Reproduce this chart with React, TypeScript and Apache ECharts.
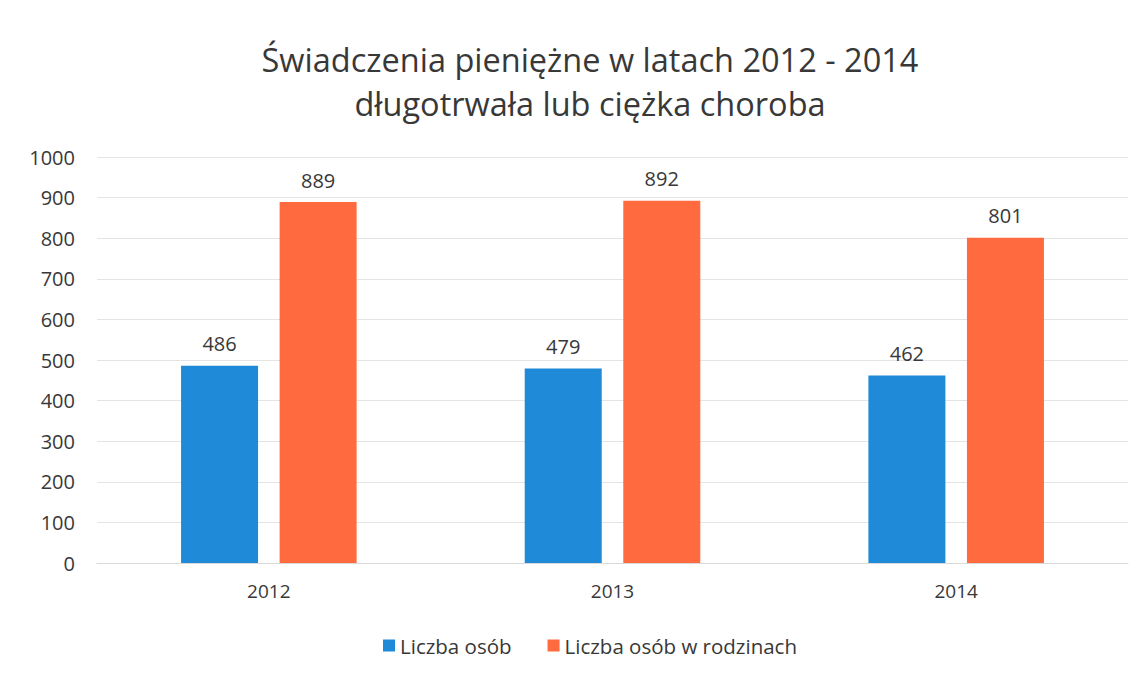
import React, { useEffect, useRef } from "react";
import * as echarts from "echarts";

const categories = ["2012", "2013", "2014"];
const seriesNames = ["Liczba osób", "Liczba osób w rodzinach"];
const liczbaOsob = [486, 479, 462];
const liczbaOsobRodziny = [889, 892, 801];
const titleLines = ["Świadczenia pieniężne w latach 2012 - 2014", "długotrwała lub ciężka choroba"];

const FONT = "'Open Sans', 'Noto Sans', sans-serif";
const TEXT = "#383838";

export default function App() {
  const ref = useRef<HTMLDivElement>(null);
  useEffect(() => {
    if (!ref.current) return;
    const chart = echarts.init(ref.current, undefined, { renderer: "svg" });
    chart.setOption({
      animation: false,
      backgroundColor: "#ffffff",
      title: {
        text: titleLines.join("\n"),
        left: 585,
        textAlign: "center",
        top: 32,
        textStyle: {
          fontFamily: FONT,
          fontSize: 32.5,
          fontWeight: "normal",
          color: TEXT,
          lineHeight: 44,
        },
      },
      legend: {
        bottom: 15,
        left: 378,
        itemWidth: 12,
        itemHeight: 12,
        itemGap: 36,
        icon: "rect",
        textStyle: { fontFamily: FONT, fontSize: 20.5, color: TEXT },
        data: seriesNames,
      },
      grid: { left: 97, right: 16, top: 157, bottom: 113, containLabel: false },
      xAxis: {
        type: "category",
        data: categories,
        axisLine: { show: true, lineStyle: { color: "#d9d9d9" } },
        axisTick: { show: false },
        axisLabel: { fontFamily: FONT, fontSize: 19, color: TEXT, margin: 18 },
      },
      yAxis: {
        type: "value",
        min: 0,
        max: 1000,
        interval: 100,
        axisLine: { show: false },
        axisTick: { show: false },
        splitLine: { lineStyle: { color: "#e4e4e4" } },
        axisLabel: {
          fontFamily: FONT,
          fontSize: 20,
          color: TEXT,
          margin: 22,
          formatter: (v: number) => String(v),
        },
      },
      series: [
        {
          name: seriesNames[0],
          type: "bar",
          data: liczbaOsob,
          barWidth: 77,
          barGap: "28%",
          itemStyle: { color: "#1e8ad8" },
          label: { show: true, position: "top", distance: 12, fontFamily: FONT, fontSize: 20, color: TEXT },
        },
        {
          name: seriesNames[1],
          type: "bar",
          data: liczbaOsobRodziny,
          barWidth: 77,
          itemStyle: { color: "#ff6a3f" },
          label: { show: true, position: "top", distance: 12, fontFamily: FONT, fontSize: 20, color: TEXT },
        },
      ],
    });
    return () => chart.dispose();
  }, []);
  return (
    <div
      ref={ref}
      style={{ position: "fixed", left: 0, top: 0, width: 1144, height: 676 }}
    />
  );
}
